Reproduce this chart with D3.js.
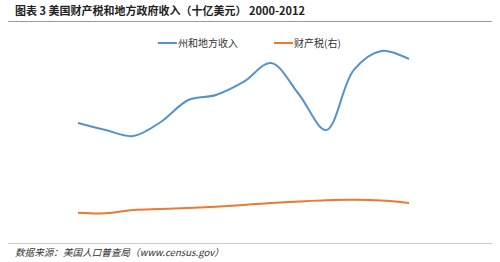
<!DOCTYPE html>
<html>
<head>
<meta charset="utf-8">
<script src="https://cdn.jsdelivr.net/npm/d3@7"></script>
<style>
  body { margin: 0; background: #fff; }
  svg { display: block; }
</style>
</head>
<body>
<svg width="500" height="262"></svg>
<script>
// data
var years = [2000, 2001, 2002, 2003, 2004, 2005, 2006, 2007, 2008, 2009, 2010, 2011, 2012];
var stateLocalRevenue = [1997, 1869, 1759, 2016, 2419, 2511, 2749, 3097, 2529, 1869, 2969, 3317, 3170];
var propertyTax = [253, 245, 288, 301, 314, 331, 353, 380, 399, 415, 421, 412, 380];
var seriesNames = ["州和地方收入", "财产税(右)"];

var svg = d3.select("svg"),
    font = "'Noto Sans CJK SC', 'Noto Sans', sans-serif";

var xScale = d3.scalePoint().domain(years).range([78, 409]),
    yLeft = d3.scaleLinear().domain([0, 3500]).range([232, 41]),
    yRight = d3.scaleLinear().domain([0, 2500]).range([232, 41]);

// title
svg.append("text")
   .attr("x", 15).attr("y", 15)
   .attr("font-family", font).attr("font-size", 11).attr("font-weight", "bold")
   .attr("fill", "#222")
   .text("图表 3 美国财产税和地方政府收入（十亿美元）  2000-2012");
svg.append("line")
   .attr("x1", 8).attr("x2", 492).attr("y1", 21.5).attr("y2", 21.5)
   .attr("stroke", "#999").attr("stroke-width", 1);

// lines
var blueLine = d3.line()
    .x(function(d, i) { return xScale(years[i]); })
    .y(function(d) { return yLeft(d); })
    .curve(d3.curveCatmullRom.alpha(0.5));
var orangeLine = d3.line()
    .x(function(d, i) { return xScale(years[i]); })
    .y(function(d) { return yRight(d); })
    .curve(d3.curveCatmullRom.alpha(0.5));

svg.append("path")
   .datum(stateLocalRevenue)
   .attr("d", blueLine)
   .attr("fill", "none").attr("stroke", "#5693cb").attr("stroke-width", 2);
svg.append("path")
   .datum(propertyTax)
   .attr("d", orangeLine)
   .attr("fill", "none").attr("stroke", "#eb7a2e").attr("stroke-width", 2);

// legend
var legend = svg.append("g").attr("font-family", font).attr("font-size", 10).attr("fill", "#333");
var legendX = [158, 274], colors = ["#5693cb", "#eb7a2e"];
seriesNames.forEach(function(name, i) {
    legend.append("line")
        .attr("x1", legendX[i]).attr("x2", legendX[i] + 19)
        .attr("y1", 43).attr("y2", 43)
        .attr("stroke", colors[i]).attr("stroke-width", 2);
    legend.append("text")
        .attr("x", legendX[i] + 20).attr("y", 47)
        .text(name);
});

// source
svg.append("line")
   .attr("x1", 8).attr("x2", 492).attr("y1", 243.5).attr("y2", 243.5)
   .attr("stroke", "#ccc").attr("stroke-width", 1);
svg.append("text")
   .attr("x", 15).attr("y", 256)
   .attr("font-family", font).attr("font-size", 9.6).attr("font-style", "italic")
   .attr("fill", "#333")
   .text("数据来源：美国人口普查局（www.census.gov）");
</script>
</body>
</html>
